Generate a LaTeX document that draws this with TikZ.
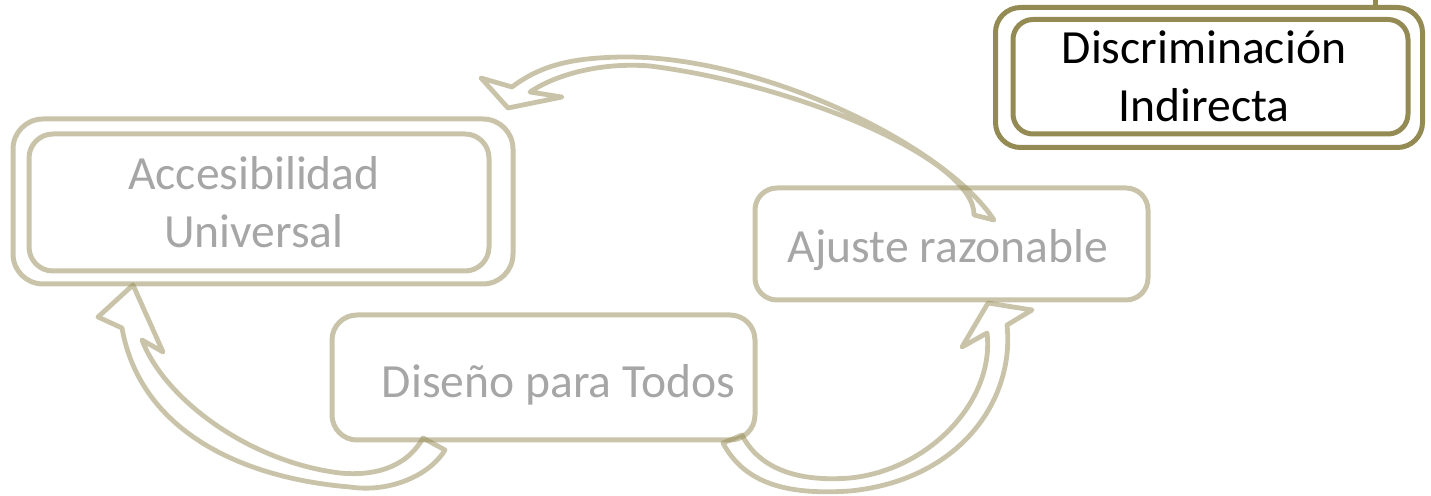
\documentclass[tikz,border=0pt]{standalone}
\usepackage{fontspec}
\setmainfont{Carlito}
\definecolor{olivec}{RGB}{148,138,84}
\definecolor{greytext}{RGB}{166,166,166}
\begin{document}
\begin{tikzpicture}[x=0.5pt,y=-0.5pt,
  lightbox/.style={draw=olivec, draw opacity=0.5, line width=2.5pt, inner sep=0pt},
  darkbox/.style={draw=olivec, line width=2.5pt, inner sep=0pt},
  lbl/.style={text=greytext, font=\fontsize{23.8pt}{29pt}\selectfont, align=center, anchor=base, inner sep=0pt},
  dlbl/.style={lbl, text=black},
  curvedarrow/.style={draw=olivec, draw opacity=0.5, line width=2.4pt, line join=round}
]
\useasboundingbox (0,0) rectangle (1431,496);

% boxes
\node[lightbox, rounded corners=15pt, minimum width=250pt, minimum height=82.5pt] (accout) at (263,201.5) {};
\node[lightbox, rounded corners=12pt, minimum width=230pt, minimum height=68.5pt] (accin) at (259,202.5) {};
\node[lightbox, rounded corners=12.5pt, minimum width=211.5pt, minimum height=62.5pt] (dis) at (543.5,377.5) {};
\node[lightbox, rounded corners=11pt, minimum width=196.5pt, minimum height=56pt] (aju) at (951.5,244) {};
\node[darkbox, rounded corners=12.5pt, minimum width=213.5pt, minimum height=70pt] (discout) at (1209,77.5) {};
\node[darkbox, rounded corners=10pt, minimum width=197.5pt, minimum height=57.25pt] (discin) at (1210.5,76.75) {};

% labels (base anchor = baseline of the last line)
\node[lbl] (acctext) at (254,248) {Accesibilidad\\Universal};
\node[lbl] (distext) at (558.5,398) {Diseño para Todos};
\node[lbl] (ajutext) at (948,263) {Ajuste razonable};
\node[dlbl] (disctext) at (1204,122) {Discriminación\\Indirecta};

% stub at the top edge
\coordinate (stubtop) at (1375,0);
\draw[olivec, line width=2.5pt] (stubtop) -- (stubtop |- discout.north);

% arrow: Ajuste razonable -> Accesibilidad Universal
\draw[curvedarrow] (481,78) -- (512,87)
  .. controls (545,62) and (580,58) .. (621,57)
  .. controls (760,55) and (945,145) .. (994,220)
  -- (974,215)
  .. controls (975,160) and (800,85) .. (650,66)
  .. controls (600,62) and (555,75) .. (530,92)
  -- (562,97) -- (508,108) -- cycle;

% arrow: Diseño para Todos -> Accesibilidad Universal
\draw[curvedarrow] (133,285) -- (98,317) -- (122,328)
  .. controls (140,430) and (240,478) .. (350,487)
  .. controls (390,493) and (430,475) .. (445,450)
  -- (423,438)
  .. controls (405,470) and (370,476) .. (340,473)
  .. controls (250,462) and (165,400) .. (142,340)
  -- (163,352) -- cycle;

% arrow: Diseño para Todos -> Ajuste razonable
\draw[curvedarrow] (723,443)
  .. controls (745,485) and (790,495) .. (850,491)
  .. controls (960,480) and (1015,400) .. (1007,325)
  -- (1032,310) -- (988,303) -- (962,347) -- (987,333)
  .. controls (995,400) and (930,470) .. (850,478)
  .. controls (800,482) and (760,470) .. (742,435)
  -- cycle;
\end{tikzpicture}
\end{document}
